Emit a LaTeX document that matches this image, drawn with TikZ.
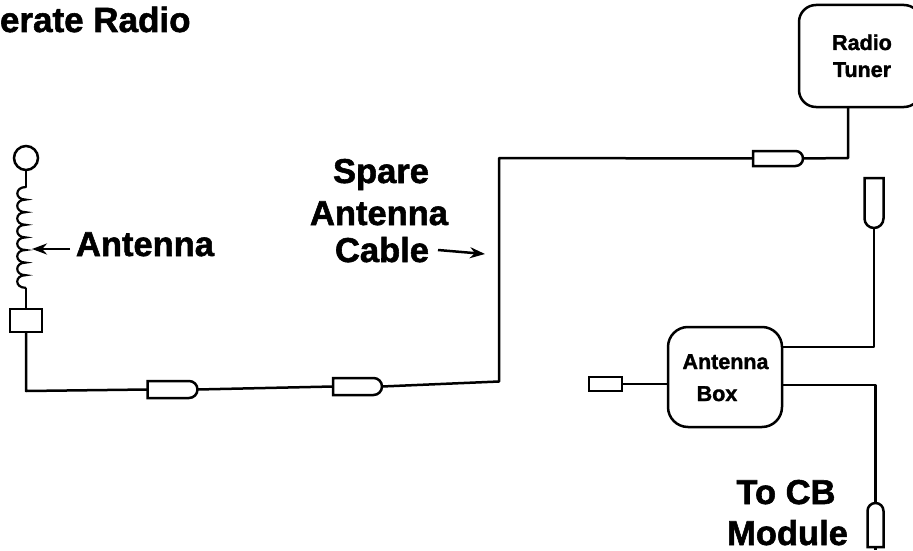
\documentclass[tikz,border=0pt]{standalone}
\usepackage{fontspec}
\setmainfont[BoldFeatures={FakeBold=1.6}]{Liberation Sans}
\usetikzlibrary{arrows.meta,shapes.misc}
\tikzset{
  x=1pt,y=-1pt,
  wire/.style={line width=2.5pt,line join=round},
  lbl/.style={inner sep=0pt,outer sep=0pt,anchor=base west,font=\fontsize{34.5}{34.5}\selectfont\bfseries},
  smalllbl/.style={inner sep=0pt,outer sep=0pt,anchor=base,font=\fontsize{21.5}{21.5}\selectfont\bfseries},
  plug/.style={draw,line width=2.5pt,inner sep=0pt,outer sep=0pt,rounded rectangle,rounded rectangle west arc=none,minimum width=#1},
  plug/.default=50pt,
  block/.style={draw,line width=2.5pt,inner sep=0pt,outer sep=0pt,rectangle,rounded corners=#1},
  pointer/.style={line width=2.5pt,-{Stealth[length=15pt,width=11pt]}}
}
\begin{document}
\begin{tikzpicture}
\useasboundingbox (0,0) rectangle (913,551);
\clip (0,0) rectangle (913,551);
% title
\node[lbl,font=\fontsize{35}{35}\selectfont\bfseries] (title) at (0,32) {erate Radio};
% antenna
\node[circle,draw,line width=2.5pt,minimum size=24pt,inner sep=0pt,outer sep=0pt] (tip) at (26,158) {};
\coordinate (coilTop) at (26,187);
\coordinate (coilBottom) at (26,288);
\draw[wire] (tip.south) -- (coilTop);
\draw[line width=2.2pt,line cap=round]
  (coilTop)
  \foreach \k in {0,...,7}{
    .. controls ({14.5},{187+\k*12.6}) and ({14.5},{187+(\k+1)*12.6}) .. ({25.5},{187+(\k+1)*12.6})
  };
\node[draw,line width=2.5pt,minimum width=32pt,minimum height=23pt,inner sep=0pt,outer sep=0pt] (sq) at (26,320.5) {};
\draw[wire] (coilBottom) -- (sq.north);
\coordinate (bendA) at (26,391);
\node[plug,minimum height=17pt] (p1) at (172.5,389.5) {};
\node[plug=49pt,minimum height=17pt] (p2) at (357.5,386.5) {};
\draw[wire] (sq.south) -- (bendA) -- (p1.west);
\draw[wire] (p1.east) -- (p2.west);
\coordinate (bendB) at (499,381.5);
\coordinate (bendC) at (499,158);
\node[plug=50pt,minimum height=15pt] (p3) at (778,158.5) {};
\draw[wire] (p2.east) -- (bendB) -- (bendC) -- (p3.west);
% tuner
\node[block=17pt,minimum width=122pt,minimum height=102pt] (tuner) at (860,56) {};
\coordinate (bendD) at (848,158);
\coordinate (tunerIn) at (848,107);
\draw[wire] (p3.east) -- (bendD) -- (tunerIn);
\node[smalllbl] (radio) at (862,50) {Radio};
\node[smalllbl] (tunerlbl) at (862,77) {Tuner};
% antenna box
\node[block=20pt,minimum width=114pt,minimum height=100pt] (box) at (725,377) {};
\node[smalllbl] (boxa) at (725.5,369) {Antenna};
\node[smalllbl] (boxb) at (717,401) {Box};
\node[draw,line width=2.5pt,minimum width=33pt,minimum height=14pt,inner sep=0pt,outer sep=0pt] (p4) at (605.5,384) {};
\draw[wire] (p4.east) -- (box.west |- p4.east);
\node[plug=50pt,minimum height=19pt,rotate=-90] (p5) at (874,203) {};
\node[plug=44pt,minimum height=16pt,rotate=90] (p6) at (875.5,525) {};
\coordinate (outA) at (782,347);
\coordinate (bendE) at (874,347);
\coordinate (outB) at (782,385);
\coordinate (bendF) at (875.5,385);
\draw[wire] (p5.east) -- (bendE) -- (outA);
\draw[wire] (outB) -- (bendF) -- (p6.east);
\coordinate (stub) at (875.5,550);
\draw[wire] (p6.west) -- (stub);
% labels
\node[lbl] (antennaLbl) at (76,256) {Antenna};
\coordinate (coilPoint) at (32,249);
\draw[pointer] (70,249) coordinate (antStart) -- (coilPoint);
\node[lbl,anchor=base] (spare) at (381,183) {Spare};
\node[lbl,anchor=base] (ant2) at (379,225) {Antenna};
\node[lbl,anchor=base] (cable) at (382,262) {Cable};
\coordinate (cableTip) at (485,254);
\draw[pointer] (438,250) coordinate (cableStart) -- (cableTip);
\node[lbl,anchor=base] (tocb) at (786,504) {To CB};
\node[lbl,anchor=base] (module) at (787.5,545) {Module};
\end{tikzpicture}
\end{document}
